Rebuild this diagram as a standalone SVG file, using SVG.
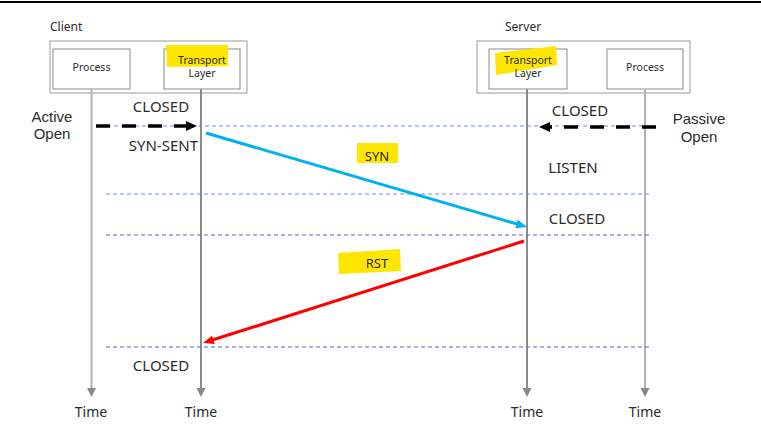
<svg xmlns="http://www.w3.org/2000/svg" width="761" height="439" viewBox="0 0 761 439">
<style>
text{font-family:"Noto Sans","Liberation Sans",sans-serif;fill:#2b2b2b}
.st{font-size:15px}
.lb{font-size:15px;font-family:"Liberation Sans",Arial,sans-serif;text-anchor:middle}
.tm{font-size:14px;text-anchor:middle}
.hd{font-size:12px}
.bx{font-size:10.5px;text-anchor:middle}
.outer{fill:#fff;stroke:#9a9a9a;stroke-width:1}
.inner{fill:#fff;stroke:#8a8a8a;stroke-width:1}
.hl{fill:#ffe600}
.life1{stroke:#8a8a8a;stroke-width:2;fill:none}
.life2{stroke:#b2b2b2;stroke-width:2;fill:none}
.sep{stroke:#6f8fd0;stroke-width:1;stroke-dasharray:4 3;fill:none}
.sep2{stroke:#4a6fbf;stroke-width:1;stroke-dasharray:4 3;fill:none}
.open{stroke:#000;stroke-width:3.5;stroke-dasharray:14 12;fill:none}
</style>
<defs>
<marker id="ag" markerUnits="userSpaceOnUse" markerWidth="10" markerHeight="10" refX="1" refY="4.5" orient="auto"><path d="M0,0 L9,4.5 L0,9 z" fill="#888"/></marker>
<marker id="ak" markerUnits="userSpaceOnUse" markerWidth="12" markerHeight="11" refX="1" refY="5" orient="auto"><path d="M0,0 L11,5 L0,10 z" fill="#000"/></marker>
<marker id="ab" markerUnits="userSpaceOnUse" markerWidth="12" markerHeight="10" refX="2" refY="4.5" orient="auto"><path d="M0,0 L11,4.5 L0,9 z" fill="#00b0f0"/></marker>
<marker id="ar" markerUnits="userSpaceOnUse" markerWidth="12" markerHeight="10" refX="2" refY="4.5" orient="auto"><path d="M0,0 L11,4.5 L0,9 z" fill="#ff0000"/></marker>
</defs>
<rect x="0" y="0" width="761" height="439" fill="#fff"/>
<rect x="0" y="1" width="761" height="2" fill="#000"/>

<g id="client">
<text class="hd" x="50" y="31">Client</text>
<rect class="outer" x="50" y="41" width="197" height="52"/>
<g id="client-process">
<rect class="inner" x="53" y="49" width="77" height="40"/>
<text class="bx" x="91.5" y="71">Process</text>
</g>
<g id="client-transport">
<rect class="inner" x="164" y="49" width="76" height="40"/>
<polygon class="hl" points="166,45 228,45 228,66 167,67"/>
<text class="bx" x="202" y="64">Transport</text>
<text class="bx" x="202" y="77">Layer</text>
</g>
</g>

<g id="server">
<text class="hd" x="505" y="31">Server</text>
<rect class="outer" x="477" y="41" width="213" height="52"/>
<g id="server-transport">
<rect class="inner" x="489" y="49" width="78" height="40"/>
<polygon class="hl" points="495,53 556,46 557,65 496,75"/>
<text class="bx" x="528" y="64">Transport</text>
<text class="bx" x="528" y="77">Layer</text>
</g>
<g id="server-process">
<rect class="inner" x="607" y="49" width="76" height="40"/>
<text class="bx" x="645" y="71">Process</text>
</g>
</g>

<g id="lifelines">
<line class="life2" x1="91.5" y1="89" x2="91.5" y2="389" marker-end="url(#ag)"/>
<line class="life1" x1="201" y1="89" x2="201" y2="389" marker-end="url(#ag)"/>
<line class="life1" x1="527" y1="89" x2="527" y2="389" marker-end="url(#ag)"/>
<line class="life2" x1="645" y1="89" x2="645" y2="389" marker-end="url(#ag)"/>
</g>

<g id="separators">
<line class="sep" x1="100" y1="126" x2="652" y2="126"/>
<line class="sep" x1="106" y1="194" x2="650" y2="194"/>
<line class="sep2" x1="106" y1="235" x2="650" y2="235"/>
<line class="sep2" x1="106" y1="347" x2="650" y2="347"/>
</g>

<g id="connectors">
<line class="open" x1="96" y1="126" x2="187" y2="126" marker-end="url(#ak)"/>
<line class="open" x1="656" y1="127" x2="549" y2="127" marker-end="url(#ak)"/>
<line x1="206" y1="133" x2="518.3" y2="224.4" stroke="#00b0f0" stroke-width="3" marker-end="url(#ab)"/>
<line x1="524" y1="241" x2="211.6" y2="340.3" stroke="#ff0000" stroke-width="3" marker-end="url(#ar)"/>
</g>

<g id="labels">
<text class="lb" x="52" y="122">Active</text>
<text class="lb" x="52" y="139">Open</text>
<text class="lb" x="699" y="124">Passive</text>
<text class="lb" x="699" y="142">Open</text>
<text class="st" x="161" y="112" text-anchor="middle">CLOSED</text>
<text class="st" x="198" y="151" text-anchor="end">SYN-SENT</text>
<text class="st" x="161" y="371" text-anchor="middle">CLOSED</text>
<text class="st" x="580" y="116" text-anchor="middle">CLOSED</text>
<text class="st" x="573" y="173" text-anchor="middle">LISTEN</text>
<text class="st" x="577" y="224" text-anchor="middle">CLOSED</text>
</g>

<g id="syn-label">
<rect class="hl" x="357" y="143" width="41" height="20"/>
<text x="377" y="161" style="font-size:13px" text-anchor="middle">SYN</text>
</g>
<g id="rst-label">
<polygon class="hl" points="338,253 400,249 401,271 339,274"/>
<text x="377" y="268" style="font-size:13px" text-anchor="middle">RST</text>
</g>

<g id="time-labels">
<text class="tm" x="91" y="417">Time</text>
<text class="tm" x="201" y="417">Time</text>
<text class="tm" x="527" y="417">Time</text>
<text class="tm" x="645" y="417">Time</text>
</g>
</svg>
